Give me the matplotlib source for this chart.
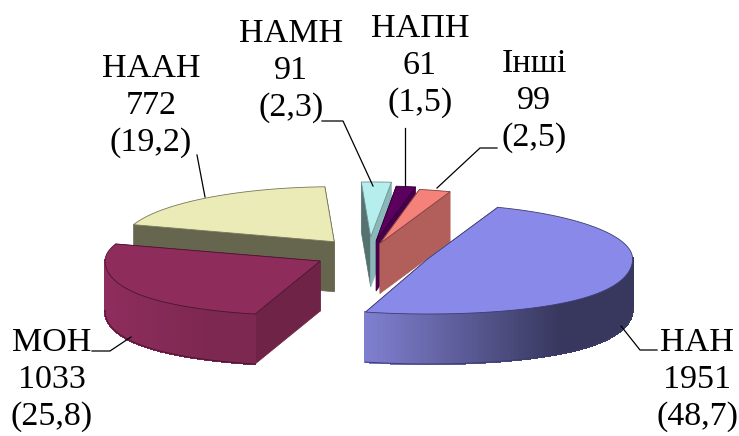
import numpy as np
import matplotlib
matplotlib.use("Agg")
import matplotlib.pyplot as plt
from matplotlib.colors import to_rgb
from matplotlib.collections import PolyCollection

names = ["НАН", "МОН", "НААН", "НАМН", "НАПН", "Інші"]
counts = [1951, 1033, 772, 91, 61, 99]
shares = ["48,7", "25,8", "19,2", "2,3", "1,5", "2,5"]
explode = [0.30, 0.27, 0.28, 0.31, 0.24, 0.20]
radius_scale = [1.0, 1.05, 1.03, 1.03, 1.0, 1.0]

top_cols = ["#8989ea", "#8e2c5c", "#ebebb8", "#b6eeee", "#5c0060", "#f4827a"]
wall_left = ["#7f7fd0", "#8f2d5d", "#66664e", "#577370", "#47004a", "#b25e5a"]
wall_right = ["#38385f", "#7c2850", "#66664e", "#8ab8b8", "#3a003d", "#b25e5a"]
cut_cols = ["#5a5a94", "#6f2347", "#66664e", "#567270", "#47004a", "#b25e5a"]
edge_cols = ["#3c3c70", "#4a1530", "#77775a", "#6f9090", "#300033", "#7a3f3c"]

CX, CY, RX, RY, DEPTH, START = 369.0, 254.0, 205.0, 55.0, 50.0, 70.0
FRONT_K = 0.16

fig = plt.figure(figsize=(7.39, 4.36), dpi=100)
ax = fig.add_axes([0, 0, 1, 1])
ax.set_xlim(0, 739)
ax.set_ylim(436, 0)
ax.axis("off")

plt.rcParams["font.family"] = ["Liberation Serif", "DejaVu Serif"]

total = sum(counts)
sweeps = [360.0 * c / total for c in counts]
starts = START - np.concatenate([[0], np.cumsum(sweeps)[:-1]])


def mix(a, b, t):
    a, b = np.array(to_rgb(a)), np.array(to_rgb(b))
    return tuple(a + (b - a) * t)


def draw_slice(i, z):
    a0, a1 = starts[i], starts[i] - sweeps[i]
    mid = np.radians((a0 + a1) / 2)
    ax0 = CX + explode[i] * RX * np.cos(mid)
    ay0 = CY - explode[i] * RY * np.sin(mid)
    th = np.radians(np.linspace(a0, a1, 160))
    s = np.sin(th)
    # mild perspective: the near side of the pie looks wider
    persp = np.where(s < 0, 1 + FRONT_K * s ** 2, 1.0)
    xs = ax0 + RX * radius_scale[i] * np.cos(th) * persp
    ys = ay0 - RY * s

    # radial walls
    ends = sorted([(xs[0], ys[0]), (xs[-1], ys[-1])], key=lambda p: p[1])
    for k, (px, py) in enumerate(ends):
        col = cut_cols[i]
        if i == 3 and px > ax0:
            col = wall_right[i]
        ax.fill([ax0, px, px, ax0], [ay0, py, py + DEPTH, ay0 + DEPTH],
                facecolor=col, edgecolor=col, lw=0.5, zorder=z + k * 0.01)

    # outer curved wall: only the part facing the viewer
    front = s <= 0.02
    if front.sum() > 1:
        fx, fy = xs[front], ys[front]
        order = np.argsort(fx)
        fx, fy = fx[order], fy[order]
        quads, cols = [], []
        lo, hi = fx.min(), fx.max()
        for j in range(len(fx) - 1):
            quads.append([(fx[j], fy[j]), (fx[j + 1], fy[j + 1]),
                          (fx[j + 1], fy[j + 1] + DEPTH), (fx[j], fy[j] + DEPTH)])
            t = min(1.0, ((fx[j] - lo) / (hi - lo)) / 0.72)
            cols.append(mix(wall_left[i], wall_right[i], t))
        ax.add_collection(PolyCollection(quads, facecolors=cols, edgecolors=cols,
                                         linewidths=1.0, antialiaseds=False, zorder=z + 0.1))
        ax.plot(fx, fy + DEPTH, color=edge_cols[i], lw=0.7, zorder=z + 0.15)

    # top face
    ax.fill(np.r_[ax0, xs], np.r_[ay0, ys], facecolor=top_cols[i],
            edgecolor=edge_cols[i], lw=0.6, zorder=z + 0.2)


for z, i in enumerate([2, 3, 4, 5, 1, 0]):
    draw_slice(i, 2 + z)

# labels
label_xy = [(697, 380), (52, 380), (151, 106), (291, 71), (420, 66), (534, 101)]
for i, (x, y) in enumerate(label_xy):
    ax.text(x, y, f"{names[i]}\n{counts[i]}\n({shares[i]})", ha="center", va="center",
            fontsize=24.5, linespacing=1.28, color="black", zorder=20)

# leader lines
leaders = [
    ([657, 640, 621], [350, 350, 326]),
    ([92, 110, 131], [351, 351, 337]),
    ([197, 205], [155, 197]),
    ([322, 343, 373], [121, 121, 186]),
    ([405, 405], [128, 186]),
    ([497, 480, 437], [148, 148, 188]),
]
for lx, ly in leaders:
    ax.plot(lx, ly, color="black", lw=0.9, zorder=21)

fig.savefig("out.png", dpi=100, facecolor="white")
